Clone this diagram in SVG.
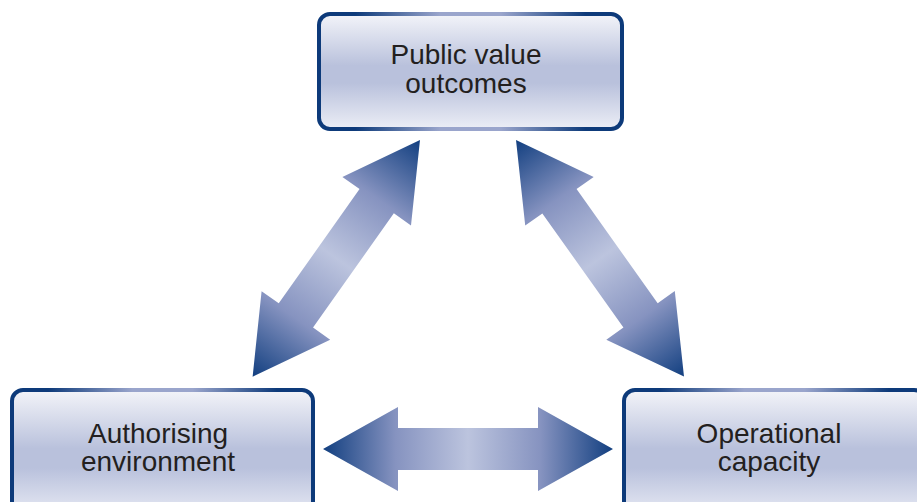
<svg xmlns="http://www.w3.org/2000/svg" width="917" height="502" viewBox="0 0 917 502">
  <defs>
    <linearGradient id="boxFill" x1="0" y1="0" x2="0" y2="1">
      <stop offset="0" stop-color="#f3f4f9"/>
      <stop offset="0.45" stop-color="#b9c1dc"/>
      <stop offset="0.6" stop-color="#b9c1dc"/>
      <stop offset="1" stop-color="#eceef6"/>
    </linearGradient>
    <linearGradient id="boxStroke" x1="0" y1="0" x2="1" y2="0">
      <stop offset="0" stop-color="#0d3a7a"/>
      <stop offset="0.12" stop-color="#0d3a7a"/>
      <stop offset="0.4" stop-color="#9aa5cc"/>
      <stop offset="0.6" stop-color="#9aa5cc"/>
      <stop offset="0.88" stop-color="#0d3a7a"/>
      <stop offset="1" stop-color="#0d3a7a"/>
    </linearGradient>
    <linearGradient id="arrowFill" gradientUnits="userSpaceOnUse" x1="-145" y1="0" x2="145" y2="0">
      <stop offset="0" stop-color="#123f80"/>
      <stop offset="0.25" stop-color="#8693c0"/>
      <stop offset="0.5" stop-color="#bcc4de"/>
      <stop offset="0.75" stop-color="#8693c0"/>
      <stop offset="1" stop-color="#123f80"/>
    </linearGradient>
    <path id="dblArrow" d="M -145 0 L -70 -42 L -70 -21 L 70 -21 L 70 -42 L 145 0 L 70 42 L 70 21 L -70 21 L -70 42 Z"/>
  </defs>
  <style>
    .box { fill: url(#boxFill); stroke: url(#boxStroke); stroke-width: 4; }
    .lbl { font-family: "Liberation Sans", Arial, sans-serif; font-size: 28px; fill: #231f20; text-anchor: middle; }
    .arrow { fill: url(#arrowFill); }
  </style>
  <rect width="917" height="502" fill="#ffffff"/>

  <g id="connectors">
    <use href="#dblArrow" class="arrow" transform="translate(336.3 258.3) rotate(-54.75)"/>
    <use href="#dblArrow" class="arrow" transform="translate(600 258.3) rotate(54.6)"/>
    <use href="#dblArrow" class="arrow" transform="translate(468 449)"/>
  </g>

  <g id="node-public-value">
    <rect class="box" x="319" y="14" width="303" height="115" rx="11"/>
    <text class="lbl" x="466" y="64">Public value</text>
    <text class="lbl" x="466" y="93">outcomes</text>
  </g>

  <g id="node-authorising">
    <rect class="box" x="12" y="390" width="301" height="130" rx="11"/>
    <text class="lbl" x="158" y="443">Authorising</text>
    <text class="lbl" x="158" y="471">environment</text>
  </g>

  <g id="node-operational">
    <rect class="box" x="624" y="390" width="301" height="130" rx="11"/>
    <text class="lbl" x="769" y="443">Operational</text>
    <text class="lbl" x="769" y="471">capacity</text>
  </g>
</svg>
